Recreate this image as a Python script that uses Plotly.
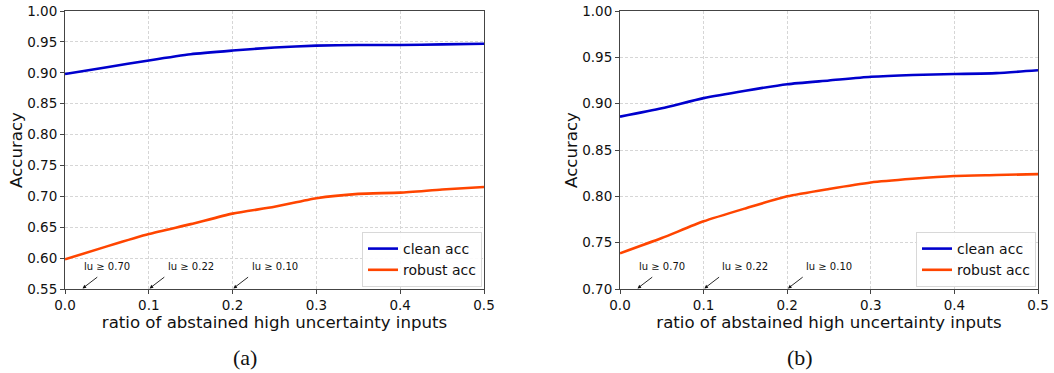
import plotly.graph_objects as go

ratio = [0.0, 0.05, 0.1, 0.15, 0.2, 0.25, 0.3, 0.35, 0.4, 0.45, 0.5]

# (a)
clean_a = [0.898, 0.909, 0.920, 0.930, 0.936, 0.941, 0.944, 0.945, 0.945, 0.946, 0.947]
robust_a = [0.598, 0.619, 0.639, 0.655, 0.672, 0.683, 0.697, 0.704, 0.706, 0.711, 0.715]
# (b)
clean_b = [0.886, 0.895, 0.906, 0.914, 0.921, 0.925, 0.929, 0.931, 0.932, 0.933, 0.936]
robust_b = [0.7385, 0.755, 0.773, 0.787, 0.800, 0.808, 0.815, 0.819, 0.822, 0.823, 0.824]

ann_text = ["lu ≥ 0.70", "lu ≥ 0.22", "lu ≥ 0.10"]
ann_head_x = [0.02, 0.1, 0.2]
ann_text_x = [0.05, 0.15, 0.25]

x_ticks = [0.0, 0.1, 0.2, 0.3, 0.4, 0.5]
x_ticklabels = ["0.0", "0.1", "0.2", "0.3", "0.4", "0.5"]

CLEAN = "#0000CD"
ROBUST = "#FF4500"
FONT = "DejaVu Sans"

W, H = 1054, 373

def px(p):
    return p / W

def py(p):
    return 1 - p / H

fig = go.Figure()
for xs, ys, col, nm, xa, ya, lg in [
    (ratio, clean_a, CLEAN, "clean acc", "x", "y", "legend"),
    (ratio, robust_a, ROBUST, "robust acc", "x", "y", "legend"),
    (ratio, clean_b, CLEAN, "clean acc", "x2", "y2", "legend2"),
    (ratio, robust_b, ROBUST, "robust acc", "x2", "y2", "legend2"),
]:
    fig.add_trace(go.Scatter(x=xs, y=ys, mode="lines", name=nm,
                             line=dict(color=col, width=2.6, shape="spline", smoothing=0.6),
                             xaxis=xa, yaxis=ya, legend=lg))

def xaxis(domain, anchor):
    return dict(domain=domain, anchor=anchor, range=[0, 0.5], tickvals=x_ticks,
                ticktext=x_ticklabels, showgrid=True, gridcolor="#d6d6d6", griddash="3px,2px",
                gridwidth=1, showline=True, linecolor="#444", linewidth=1, mirror=True,
                ticks="outside", ticklen=4, tickcolor="#444", zeroline=False, automargin=False,
                tickfont=dict(family=FONT, size=13.5, color="#111"),
                title=dict(text="ratio of abstained high uncertainty inputs",
                           font=dict(family=FONT, size=16.6, color="#111"), standoff=0))

def yaxis(domain, anchor, rng, dtick):
    return dict(domain=domain, anchor=anchor, range=rng, dtick=dtick, tick0=rng[0],
                tickformat=".2f", showgrid=True, gridcolor="#d6d6d6", griddash="3px,2px",
                gridwidth=1, showline=True, linecolor="#444", linewidth=1, mirror=True,
                ticks="outside", ticklen=4, tickcolor="#444", zeroline=False, automargin=False,
                tickfont=dict(family=FONT, size=13.5, color="#111"),
                title=dict(text="Accuracy", font=dict(family=FONT, size=16.6, color="#111"),
                           standoff=0))

ydom = [py(289), py(11)]
fig.update_layout(
    width=W, height=H,
    margin=dict(l=0, r=0, t=0, b=0, autoexpand=False),
    paper_bgcolor="white", plot_bgcolor="white",
    showlegend=True,
    xaxis=xaxis([px(65), px(484)], "y"),
    yaxis=yaxis(ydom, "x", [0.55, 1.0], 0.05),
    xaxis2=xaxis([px(620), px(1038)], "y2"),
    yaxis2=yaxis(ydom, "x2", [0.70, 1.0], 0.05),
    legend=dict(x=px(482), y=py(287), xanchor="right", yanchor="bottom",
                bordercolor="#d8d8d8", borderwidth=1, bgcolor="rgba(255,255,255,0.9)",
                font=dict(family=FONT, size=14, color="#111"), tracegroupgap=0),
    legend2=dict(x=px(1036), y=py(287), xanchor="right", yanchor="bottom",
                 bordercolor="#d8d8d8", borderwidth=1, bgcolor="rgba(255,255,255,0.9)",
                 font=dict(family=FONT, size=14, color="#111"), tracegroupgap=0),
)

annotations = []
for xr, yr, ybot, yt in [("x", "y", 0.55, 0.5865), ("x2", "y2", 0.70, 0.7245)]:
    for t, hx, tx in zip(ann_text, ann_head_x, ann_text_x):
        # arrow
        annotations.append(dict(x=hx, y=ybot, xref=xr, yref=yr, ax=17, ay=-13,
                                text="", showarrow=True, arrowhead=2, arrowsize=0.8,
                                arrowwidth=0.9, arrowcolor="#111", standoff=1))
        # label
        annotations.append(dict(x=tx, y=yt, xref=xr, yref=yr, text=t, showarrow=False,
                                xanchor="center", yanchor="middle",
                                font=dict(family=FONT, size=10, color="#111")))
for cap, cx in [("(a)", 245), ("(b)", 800)]:
    annotations.append(dict(x=px(cx), y=py(357), xref="paper", yref="paper",
                            text=cap, showarrow=False, xanchor="center", yanchor="middle",
                            font=dict(family="Liberation Serif", size=22, color="#111")))
fig.update_layout(annotations=annotations)

fig.write_html("out.html", config={"displayModeBar": False},
               post_script="document.body.style.margin='0px';document.body.style.padding='0px';")
